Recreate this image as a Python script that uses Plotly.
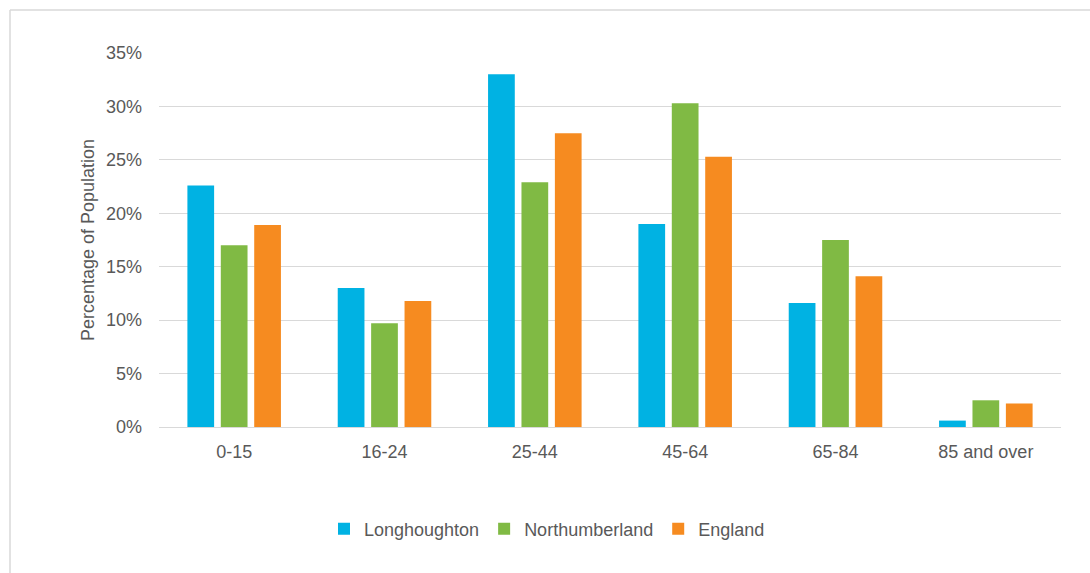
import plotly.graph_objects as go

categories = ["0-15", "16-24", "25-44", "45-64", "65-84", "85 and over"]
longhoughton = [22.6, 13.0, 33.0, 19.0, 11.6, 0.6]
northumberland = [17.0, 9.7, 22.9, 30.3, 17.5, 2.5]
england = [18.9, 11.8, 27.5, 25.3, 14.1, 2.2]

series = [
    ("Longhoughton", longhoughton, "#00B2E3"),
    ("Northumberland", northumberland, "#80BA44"),
    ("England", england, "#F68B20"),
]

fig = go.Figure()
for name, vals, col in series:
    fig.add_trace(go.Bar(
        x=categories, y=[v / 100 for v in vals], name=name,
        marker=dict(color=col, line=dict(width=0)),
    ))

W, H = 1090, 573
L, R, T, B = 159, 29, 53, 146
pw, ph = W - L - R, H - T - B

def px(x):
    return (x - L) / pw

def py(y):
    return (H - B - y) / ph

FS = 18
fig.update_layout(
    width=W, height=H,
    margin=dict(l=L, r=R, t=T, b=B, pad=0),
    paper_bgcolor="white", plot_bgcolor="white",
    barmode="group", bargap=1/3, bargroupgap=0.2,
    font=dict(family="Liberation Sans, Arial, sans-serif", size=FS, color="#595959"),
    showlegend=True,
    legend=dict(orientation="h", x=px(547), xanchor="center", y=py(529), yanchor="middle",
                font=dict(size=FS, color="#595959"), itemwidth=30,
                traceorder="normal"),
    xaxis=dict(showgrid=False, showline=True, linecolor="#D9D9D9", linewidth=1,
               ticks="", ticklabelstandoff=8, tickfont=dict(size=FS, color="#595959")),
    yaxis=dict(range=[0, 0.35], dtick=0.05, tickformat=".0%", showgrid=True,
               gridcolor="#D9D9D9", gridwidth=1, zeroline=False, showline=False,
               ticks="", ticklabelstandoff=16, tickfont=dict(size=FS, color="#595959")),
    shapes=[
        dict(type="line", xref="paper", yref="paper", x0=px(10), x1=px(1100),
             y0=py(10), y1=py(10), line=dict(color="#D9D9D9", width=1.5)),
        dict(type="line", xref="paper", yref="paper", x0=px(10), x1=px(10),
             y0=py(10), y1=py(590), line=dict(color="#D9D9D9", width=1.5)),
    ],
)
fig.update_yaxes(title=dict(text="Percentage of Population", standoff=6,
                            font=dict(size=FS, color="#595959")))

fig.write_html("out.html")
